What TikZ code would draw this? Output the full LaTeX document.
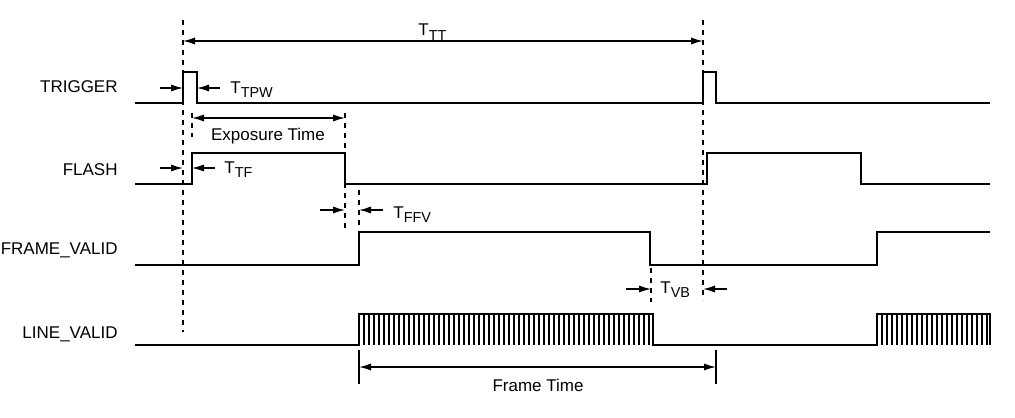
\documentclass[tikz,border=0pt]{standalone}
\usepackage{fontspec}
\setmainfont{Liberation Sans}
\usetikzlibrary{arrows.meta}
\newcommand{\tsub}[1]{T\raisebox{-0.5ex}{\fontsize{7.2}{8}\selectfont #1}}

\begin{document}
\begin{tikzpicture}[x=0.5pt,y=-0.5pt,
    sig/.style={line width=1pt},
    comb/.style={line width=1pt},
    guide/.style={line width=0.9pt, dash pattern=on 2.6pt off 2.4pt},
    tick/.style={line width=0.8pt},
    dim/.style={line width=0.75pt, -{Latex[length=6pt,width=3.6pt]}},
    dimboth/.style={line width=0.75pt, {Latex[length=6pt,width=3.6pt]}-{Latex[length=6pt,width=3.6pt]}},
    lbl/.style={font=\fontsize{8.5}{10}\selectfont, inner sep=0pt},
    signame/.style={lbl, anchor=base east}]
    \useasboundingbox (0,0) rectangle (1015,417);

    % Signal names
    \node[signame] (trigger) at (118,92) {TRIGGER};
    \node[signame] (flash) at (118,175) {FLASH};
    \node[signame] (framevalid) at (118,254) {FRAME\_VALID};
    \node[signame] (linevalid) at (118,338) {LINE\_VALID};

    % Guide lines
    \draw[guide] (183,20) -- (183,332);
    \draw[guide] (703,20) -- (703,300);
    \draw[guide] (192,113) -- (192,137);
    \draw[guide] (345,113) -- (345,230);
    \draw[guide] (359,190) -- (359,230);
    \draw[guide] (651,268) -- (651,302);

    % Waveforms
    \draw[sig] (135,103) -- (183,103) -- (183,72) -- (197,72) -- (197,103) -- (703,103) -- (703,72) -- (716,72) -- (716,103) -- (990,103);
    \draw[sig] (135,184) -- (192,184) -- (192,153) -- (345,153) -- (345,184) -- (707,184) -- (707,153) -- (861,153) -- (861,184) -- (990,184);
    \draw[sig] (135,265) -- (359,265) -- (359,232) -- (650,232) -- (650,265) -- (877,265) -- (877,232) -- (990,232);
    \draw[sig] (135,345) -- (359,345) -- (359,314) -- (653,314) -- (653,345) -- (877,345) -- (877,314) -- (990,314) -- (990,345);
    \foreach \x in {364,369,...,649}
        \draw[comb] (\x,314) -- (\x,345);
    \foreach \x in {882,887,...,987}
        \draw[comb] (\x,314) -- (\x,345);

    % Frame time ticks
    \draw[tick] (359,350) -- (359,384);
    \draw[tick] (716,350) -- (716,384);

    % Arrow end points
    \coordinate (tt1) at (183,41);   \coordinate (tt2) at (703,41);
    \coordinate (pw0) at (160,88);   \coordinate (pw1) at (183,88);
    \coordinate (pw2) at (197,88);   \coordinate (pw3) at (220,88);
    \coordinate (ex1) at (192,118);  \coordinate (ex2) at (345,118);
    \coordinate (tf0) at (160,168);  \coordinate (tf1) at (183,168);
    \coordinate (tf2) at (192,168);  \coordinate (tf3) at (215,168);
    \coordinate (fv0) at (320,210);  \coordinate (fv1) at (345,210);
    \coordinate (fv2) at (359,210);  \coordinate (fv3) at (383,210);
    \coordinate (vb0) at (626,289);  \coordinate (vb1) at (651,289);
    \coordinate (vb2) at (703,289);  \coordinate (vb3) at (727,289);
    \coordinate (ft1) at (359,367);  \coordinate (ft2) at (716,367);

    % Timing arrows
    \draw[dimboth] (tt1) -- (tt2);
    \draw[dim] (pw0) -- (pw1);
    \draw[dim] (pw3) -- (pw2);
    \draw[dimboth] (ex1) -- (ex2);
    \draw[dim] (tf0) -- (tf1);
    \draw[dim] (tf3) -- (tf2);
    \draw[dim] (fv0) -- (fv1);
    \draw[dim] (fv3) -- (fv2);
    \draw[dim] (vb0) -- (vb1);
    \draw[dim] (vb3) -- (vb2);
    \draw[dimboth] (ft1) -- (ft2);

    % Timing labels
    \node[lbl, anchor=base west] (ttt) at (418,36) {\tsub{TT}};
    \node[lbl, anchor=base west] (ttpw) at (230,93) {\tsub{TPW}};
    \node[lbl, anchor=base] (exptime) at (268,140) {Exposure Time};
    \node[lbl, anchor=base west] (ttf) at (224,173) {\tsub{TF}};
    \node[lbl, anchor=base west] (tffv) at (393,218) {\tsub{FFV}};
    \node[lbl, anchor=base west] (tvb) at (660,293) {\tsub{VB}};
    \node[lbl, anchor=base] (frametime) at (538,391) {Frame Time};
\end{tikzpicture}
\end{document}
